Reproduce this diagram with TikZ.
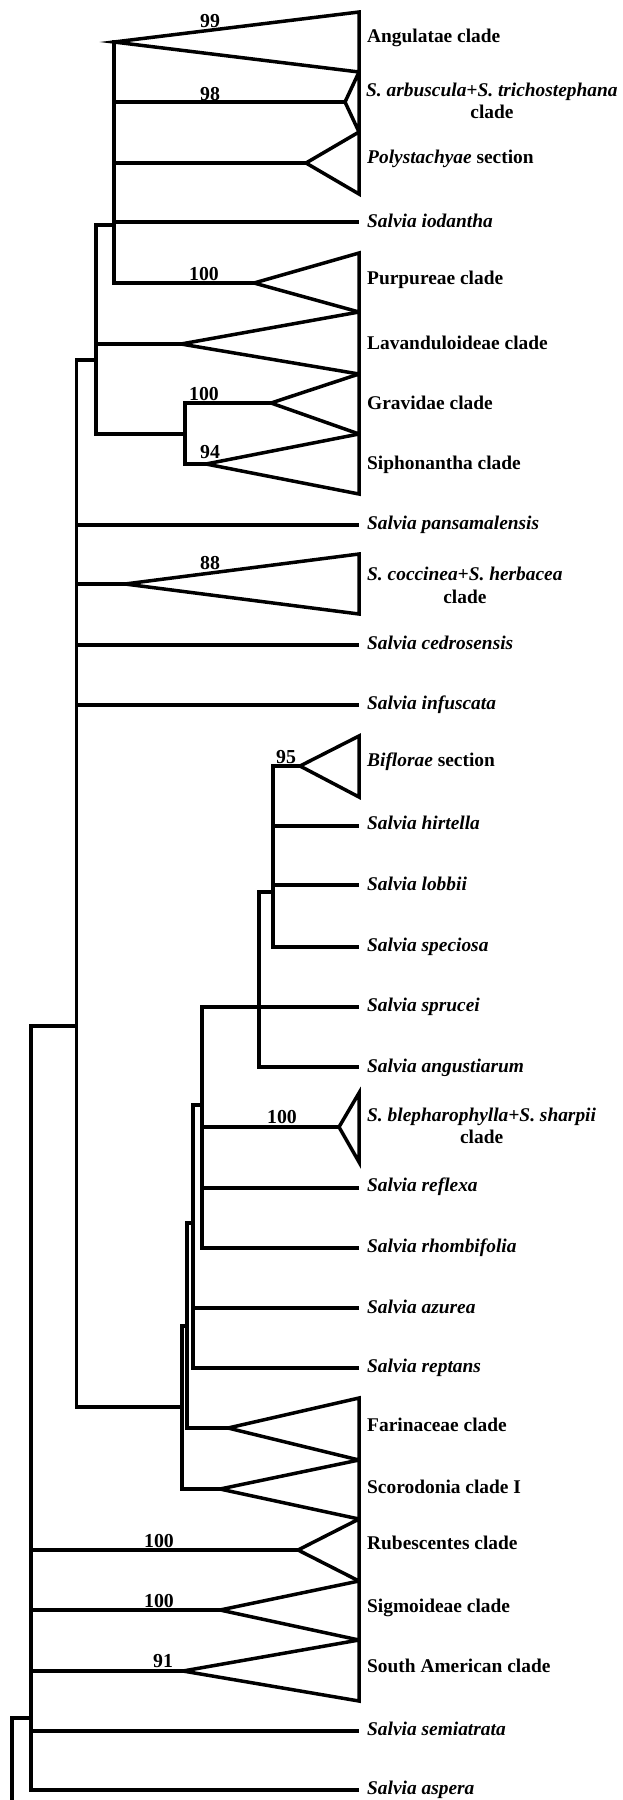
\documentclass[tikz,border=0pt]{standalone}
\usepackage{fontspec}
\setmainfont{Liberation Serif}
\usetikzlibrary{calc}
\begin{document}
\begin{tikzpicture}[x=1pt,y=-1pt,
  br/.style={line width=3.5pt,line cap=rect,line join=miter},
  tri/.style={line width=3.5pt,line join=miter},
  lab/.style={anchor=base west,inner sep=0pt,font=\fontsize{19.4}{22}\selectfont\bfseries},
  sp/.style={lab,font=\fontsize{19.4}{22}\selectfont\bfseries\itshape},
  cl/.style={anchor=base,inner sep=0pt,font=\fontsize{19.4}{22}\selectfont\bfseries},
  bs/.style={anchor=base,inner sep=0pt,font=\fontsize{19.8}{22}\selectfont\bfseries}]
\useasboundingbox (0,0) rectangle (623,1800);
\fill[white] (0,0) rectangle (623,1800);

% ---------- coordinates: right edges of collapsed clades
\coordinate (r12) at (359,12);
\coordinate (r72) at (359,72);
\coordinate (r132) at (359,132);
\coordinate (r194) at (359,194);
\coordinate (r253) at (359,253);
\coordinate (r312) at (359,312);
\coordinate (r374) at (359,374);
\coordinate (r434) at (359,434);
\coordinate (r494) at (359,494);
\coordinate (r554) at (359,554);
\coordinate (r614) at (359,614);
\coordinate (r736) at (359,736);
\coordinate (r797) at (359,797);
\coordinate (r1093) at (359,1093);
\coordinate (r1162) at (359,1162);
\coordinate (r1398) at (359,1398);
\coordinate (r1460) at (359,1460);
\coordinate (r1519) at (359,1519);
\coordinate (r1581) at (359,1581);
\coordinate (r1640) at (359,1640);
\coordinate (r1701) at (359,1701);

% ---------- group A (x = 114)
\coordinate (A0) at (114,42);
\coordinate (A1) at (114,283);
\coordinate (Aj) at (114,225);
\coordinate (arbS) at (114,102);
\coordinate (arbA) at (345,102);
\coordinate (polS) at (114,163);
\coordinate (polA) at (306,163);
\coordinate (iodS) at (114,222);
\coordinate (iodE) at (357,222);
\coordinate (purA) at (254,283);
\draw[br] (A0) -- (A1);
\draw[tri] (A0) -- (r12) -- (r72) -- cycle;
\draw[br] (arbS) -- (arbA);
\draw[tri] (arbA) -- (r72) -- (r132) -- cycle;
\draw[br] (polS) -- (polA);
\draw[tri] (polA) -- (r132) -- (r194) -- cycle;
\draw[br] (iodS) -- (iodE);
\draw[br] (A1) -- (purA);
\draw[tri] (purA) -- (r253) -- (r312) -- cycle;

% ---------- group B (x = 96)
\coordinate (B0) at (96,225);
\coordinate (B1) at (96,434);
\coordinate (Bj) at (96,360);
\coordinate (lavS) at (96,344);
\coordinate (lavA) at (181,344);
\coordinate (gsJ) at (185,434);
\coordinate (gs0) at (185,403);
\coordinate (gs1) at (185,464);
\coordinate (graA) at (271,403);
\coordinate (sipA) at (206,464);
\draw[br] (B0) -- (Aj);
\draw[br] (B0) -- (B1) -- (gsJ);
\draw[br] (lavS) -- (lavA);
\draw[tri] (lavA) -- (r312) -- (r374) -- cycle;
\draw[br] (gs0) -- (gs1);
\draw[br] (gs0) -- (graA);
\draw[tri] (graA) -- (r374) -- (r434) -- cycle;
\draw[br] (gs1) -- (sipA);
\draw[tri] (sipA) -- (r434) -- (r494) -- cycle;

% ---------- group C (x = 76.5)
\coordinate (C0) at (76.5,360);
\coordinate (C1) at (76.5,1407);
\coordinate (Cj) at (76.5,1026);
\coordinate (panS) at (76.5,525);
\coordinate (panE) at (357,525);
\coordinate (cocS) at (76.5,584);
\coordinate (cocA) at (125,584);
\coordinate (cedS) at (76.5,645);
\coordinate (cedE) at (357,645);
\coordinate (infS) at (76.5,705);
\coordinate (infE) at (357,705);
\draw[br] (C0) -- (Bj);
\draw[br] (C0) -- (C1);
\draw[br] (panS) -- (panE);
\draw[br] (cocS) -- (cocA);
\draw[tri] (cocA) -- (r554) -- (r614) -- cycle;
\draw[br] (cedS) -- (cedE);
\draw[br] (infS) -- (infE);

% ---------- group I (x = 273)
\coordinate (I0) at (273,766);
\coordinate (I1) at (273,947);
\coordinate (Ij) at (273,892);
\coordinate (bifA) at (300,766);
\coordinate (hirS) at (273,826);
\coordinate (hirE) at (357,826);
\coordinate (lobS) at (273,885);
\coordinate (lobE) at (357,885);
\coordinate (speE) at (357,947);
\draw[br] (I0) -- (I1);
\draw[br] (I0) -- (bifA);
\draw[tri] (bifA) -- (r736) -- (r797) -- cycle;
\draw[br] (hirS) -- (hirE);
\draw[br] (lobS) -- (lobE);
\draw[br] (I1) -- (speE);

% ---------- group H (x = 259)
\coordinate (H0) at (259,892);
\coordinate (H1) at (259,1067);
\coordinate (angE) at (357,1067);
\draw[br] (Ij) -- (H0) -- (H1) -- (angE);

% ---------- group G (x = 202)
\coordinate (G0) at (202,1007);
\coordinate (G1) at (202,1248);
\coordinate (Gj) at (202,1105);
\coordinate (sprE) at (357,1007);
\coordinate (blS) at (202,1127);
\coordinate (blA) at (339,1127);
\coordinate (refS) at (202,1188);
\coordinate (refE) at (357,1188);
\coordinate (rhoE) at (357,1248);
\draw[br] (G0) -- (G1) -- (rhoE);
\draw[br] (G0) -- (sprE);
\draw[br] (blS) -- (blA);
\draw[tri] (blA) -- (r1093) -- (r1162) -- cycle;
\draw[br] (refS) -- (refE);

% ---------- group F (x = 193)
\coordinate (F0) at (193,1105);
\coordinate (F1) at (193,1368);
\coordinate (Fj) at (193,1223);
\coordinate (azuS) at (193,1308);
\coordinate (azuE) at (357,1308);
\coordinate (repE) at (357,1368);
\draw[br] (Gj) -- (F0) -- (F1) -- (repE);
\draw[br] (azuS) -- (azuE);

% ---------- group E (x = 187)
\coordinate (E0) at (187,1223);
\coordinate (E1) at (187,1428);
\coordinate (Ej) at (187,1326);
\coordinate (farA) at (228,1428);
\draw[br] (Fj) -- (E0) -- (E1) -- (farA);
\draw[tri] (farA) -- (r1398) -- (r1460) -- cycle;

% ---------- group D (x = 182)
\coordinate (D0) at (182,1326);
\coordinate (D1) at (182,1489);
\coordinate (Dj) at (182,1407);
\coordinate (scoA) at (220,1489);
\draw[br] (Ej) -- (D0) -- (D1) -- (scoA);
\draw[tri] (scoA) -- (r1460) -- (r1519) -- cycle;
\draw[br] (C1) -- (Dj);

% ---------- group J (x = 31)
\coordinate (J0) at (31,1026);
\coordinate (J1) at (31,1790);
\coordinate (Jj) at (31,1718);
\coordinate (rubS) at (31,1550);
\coordinate (rubA) at (298,1550);
\coordinate (sigS) at (31,1610);
\coordinate (sigA) at (220,1610);
\coordinate (samS) at (31,1671);
\coordinate (samA) at (183,1671);
\coordinate (semS) at (31,1731);
\coordinate (semE) at (357,1731);
\coordinate (aspE) at (357,1790);
\draw[br] (Cj) -- (J0) -- (J1) -- (aspE);
\draw[br] (rubS) -- (rubA);
\draw[tri] (rubA) -- (r1519) -- (r1581) -- cycle;
\draw[br] (sigS) -- (sigA);
\draw[tri] (sigA) -- (r1581) -- (r1640) -- cycle;
\draw[br] (samS) -- (samA);
\draw[tri] (samA) -- (r1640) -- (r1701) -- cycle;
\draw[br] (semS) -- (semE);

% ---------- root
\coordinate (R0) at (12,1718);
\coordinate (R1) at (12,1804);
\draw[br] (Jj) -- (R0) -- (R1);

% ---------- tip labels
\node[lab] (tAng) at (367,42) {Angulatae clade};
\node[sp] (tArb) at (366,96) {S. arbuscula+S. trichostephana};
\node[cl] (tArb2) at ($(tArb.base)+(0,22)$) {clade};
\node[lab] (tPol) at (367,163) {\itshape Polystachyae\upshape{} section};
\node[sp] (tIod) at (367,227) {Salvia iodantha};
\node[lab] (tPur) at (367,284) {Purpureae clade};
\node[lab] (tLav) at (367,349) {Lavanduloideae clade};
\node[lab] (tGra) at (367,409) {Gravidae clade};
\node[lab] (tSip) at (367,469) {Siphonantha clade};
\node[sp] (tPan) at (367,529) {Salvia pansamalensis};
\node[sp] (tCoc) at (367,580) {S. coccinea+S. herbacea};
\node[cl] (tCoc2) at ($(tCoc.base)+(0,23)$) {clade};
\node[sp] (tCed) at (367,649) {Salvia cedrosensis};
\node[sp] (tInf) at (367,709) {Salvia infuscata};
\node[lab] (tBif) at (367,766) {\itshape Biflorae\upshape{} section};
\node[sp] (tHir) at (367,829) {Salvia hirtella};
\node[sp] (tLob) at (367,890) {Salvia lobbii};
\node[sp] (tSpe) at (367,951) {Salvia speciosa};
\node[sp] (tSpr) at (367,1011) {Salvia sprucei};
\node[sp] (tAng2) at (367,1072) {Salvia angustiarum};
\node[sp] (tBle) at (367,1121) {S. blepharophylla+S. sharpii};
\node[cl] (tBle2) at ($(tBle.base)+(0,22)$) {clade};
\node[sp] (tRef) at (367,1191) {Salvia reflexa};
\node[sp] (tRho) at (367,1252) {Salvia rhombifolia};
\node[sp] (tAzu) at (367,1313) {Salvia azurea};
\node[sp] (tRep) at (367,1372) {Salvia reptans};
\node[lab] (tFar) at (367,1431) {Farinaceae clade};
\node[lab] (tSco) at (367,1493) {Scorodonia clade I};
\node[lab] (tRub) at (367,1549) {Rubescentes clade};
\node[lab] (tSig) at (367,1612) {Sigmoideae clade};
\node[lab] (tSam) at (367,1672) {South American clade};
\node[sp] (tSem) at (367,1735) {Salvia semiatrata};
\node[sp] (tAsp) at (367,1794) {Salvia aspera};

% ---------- support values
\node[bs] (b99) at (210,27) {99};
\node[bs] (b98) at (210,100) {98};
\node[bs] (b100a) at (204,280) {100};
\node[bs] (b100b) at (204,400) {100};
\node[bs] (b94) at (210,458) {94};
\node[bs] (b88) at (210,569) {88};
\node[bs] (b95) at (286,763) {95};
\node[bs] (b100c) at (282,1123) {100};
\node[bs] (b100d) at (159,1547) {100};
\node[bs] (b100e) at (159,1607) {100};
\node[bs] (b91) at (163,1667) {91};
\end{tikzpicture}
\end{document}
